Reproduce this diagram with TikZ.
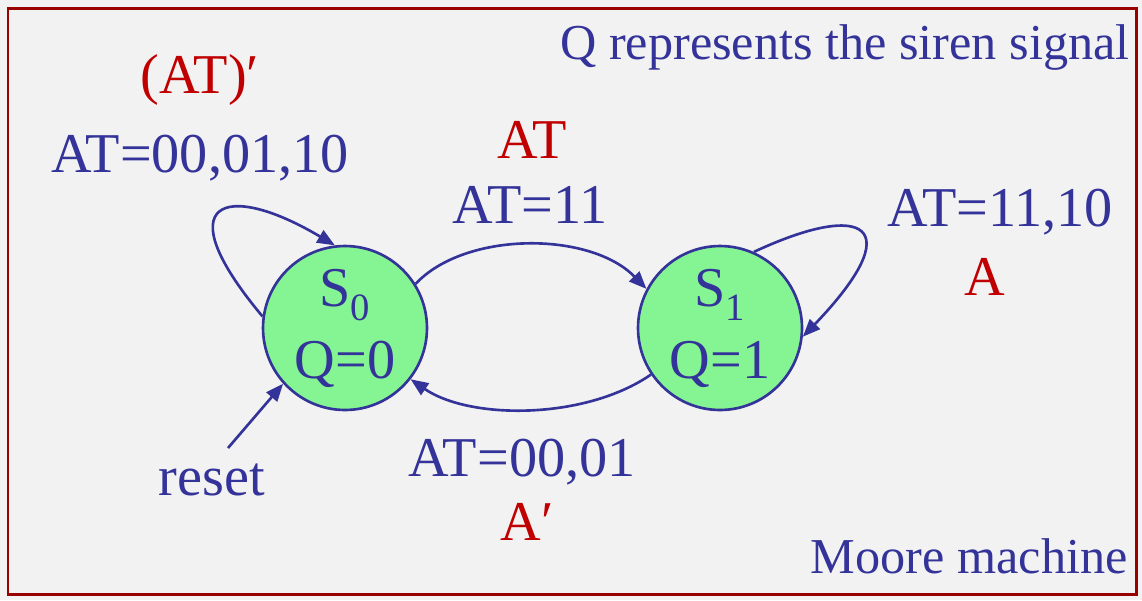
\documentclass[tikz,border=0pt]{standalone}
\usepackage{fontspec}
\setmainfont{Liberation Serif}
\usetikzlibrary{arrows.meta}
\definecolor{ink}{HTML}{333399}
\definecolor{hot}{HTML}{C00000}
\definecolor{rim}{HTML}{990000}
\definecolor{paper}{HTML}{F2F2F2}
\definecolor{mint}{HTML}{85F593}
\newcommand{\bigtxt}{\fontsize{32}{41}\selectfont}
\newcommand{\note}{\fontsize{28.6}{34}\selectfont}
\newcommand{\sub}[1]{\raisebox{-8pt}{\fontsize{22}{22}\selectfont #1}}

\begin{document}
\begin{tikzpicture}[x=0.02cm,y=-0.02cm,font=\bigtxt,
  >={Triangle[length=10pt,width=8pt]},
  state/.style={circle,draw=ink,fill=mint,line width=1.5pt,minimum size=3.28cm,inner sep=0pt,text=ink,align=center},
  lbl/.style={text=ink,inner sep=0pt},
  outlbl/.style={text=hot,inner sep=0pt},
  trans/.style={draw=ink,line width=1.5pt,->}]
% frame
\fill[paper] (0,0) rectangle (1142,600);
\draw[rim,line width=1.7pt] (8,8) rectangle (1136,594);
\useasboundingbox (0,0) rectangle (1142,600);
% states
\node[state] (S0) at (345,328) {S\sub{0}\\Q=0};
\node[state] (S1) at (720,328) {S\sub{1}\\Q=1};
% texts
\node[lbl,anchor=east,font=\note] (title) at (1130,47) {Q represents the siren signal};
\node[lbl,anchor=east,font=\note] (kind) at (1128,556) {Moore machine};
\node[outlbl] (notAT) at (200,80) {(AT)′};
\node[lbl] (loop0) at (200,158) {AT=00,01,10};
\node[outlbl] (AT) at (532,140) {AT};
\node[lbl] (go1) at (530,205) {AT=11};
\node[lbl] (loop1) at (1000,212) {AT=11,10};
\node[outlbl] (A) at (985,277) {A};
\node[lbl] (go0) at (522,462) {AT=00,01};
\node[outlbl] (notA) at (527,522) {A′};
\node[lbl] (reset) at (212,480) {reset};
\coordinate (rs) at (228,448);
% transitions
\draw[trans] (S0.172) .. controls (165,200) and (225,180) .. (S0.97);
\draw[trans] (S0.32) .. controls (465,231) and (590,231) .. (S1.152);
\draw[trans] (S1.214) .. controls (585,420) and (470,420) .. (S0.322);
\draw[trans] (S1.66) .. controls (865,200) and (910,225) .. (S1.354);
\draw[trans] (rs) -- (S0.222);
\end{tikzpicture}
\end{document}
